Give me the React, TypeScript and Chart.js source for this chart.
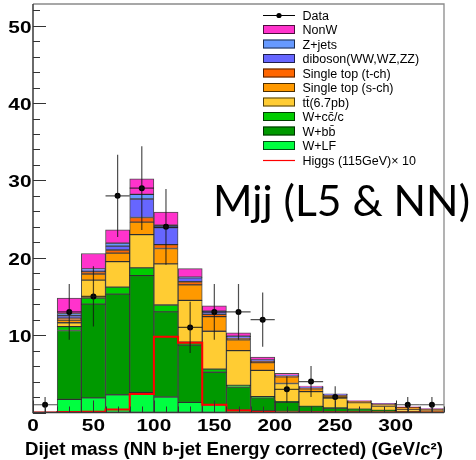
import { useEffect, useRef } from 'react';
import { Chart, registerables } from 'chart.js';

Chart.register(...registerables);

// Dijet mass bins: 20 GeV wide, centres from 30 to 330 GeV
const binCenters = [30, 50, 70, 90, 110, 130, 150, 170, 190, 210, 230, 250, 270, 290, 310, 330];

// Expected events per bin for each background (stacked bottom to top)
const wLF = [1.7, 1.9, 2.3, 2.6, 2.0, 1.3, 1.0, 0.3, 0.2, 0.15, 0.1, 0.08, 0.05, 0.03, 0.02, 0.01];
const wbb = [8.9, 12.1, 13.0, 15.1, 11.0, 7.4, 4.2, 3.0, 1.7, 1.15, 0.65, 0.47, 0.33, 0.22, 0.1, 0.06];
const wcc = [0.5, 0.8, 0.9, 1.0, 0.9, 0.4, 0.4, 0.2, 0.15, 0.1, 0.05, 0.05, 0.04, 0.03, 0.02, 0.01];
const ttbar = [0.5, 2.3, 3.3, 4.3, 5.3, 5.4, 4.9, 4.5, 3.4, 2.35, 1.9, 1.25, 0.85, 0.55, 0.2, 0.12];
const stopS = [0.35, 0.8, 1.1, 1.6, 2.0, 2.0, 1.9, 1.4, 1.0, 0.85, 0.35, 0.35, 0.15, 0.25, 0.3, 0.22];
const stopT = [0.25, 0.3, 0.4, 0.6, 0.5, 0.4, 0.3, 0.2, 0.15, 0.1, 0.1, 0.05, 0.03, 0.03, 0.03, 0.02];
const diboson = [0.3, 0.2, 0.5, 2.4, 2.2, 0.5, 0.3, 0.2, 0.15, 0.08, 0.05, 0.05, 0.02, 0.02, 0.02, 0.01];
const zjets = [0.3, 0.15, 0.4, 0.6, 0.3, 0.1, 0.1, 0.05, 0.05, 0.02, 0.02, 0.02, 0.01, 0.01, 0.01, 0.01];
const nonW = [2.0, 2.0, 1.7, 2.0, 1.7, 1.1, 0.7, 0.45, 0.35, 0.25, 0.18, 0.08, 0.07, 0.06, 0.04, 0.04];

const stackNames = [
  'W+LF',
  'W+bb\u0304',
  'W+cc\u0304/c',
  'tt\u0304(6.7pb)',
  'Single top (s-ch)',
  'Single top (t-ch)',
  'diboson(WW,WZ,ZZ)',
  'Z+jets',
  'NonW',
];
const stackColors = ['#00ff40', '#009900', '#00cc00', '#ffcc33', '#ff9900', '#ff6600', '#6666ff', '#6699ff', '#ff33cc'];
const stackValues = [wLF, wbb, wcc, ttbar, stopS, stopT, diboson, zjets, nonW];

// Observed events (empty bins have no marker)
const dataX = [10, 30, 50, 70, 90, 110, 130, 150, 170, 190, 210, 230, 250, 310, 330];
const dataY = [1, 13, 15, 28, 29, 24, 11, 13, 13, 12, 3, 4, 2, 1, 1];
const dataErr = [1, 3.6, 3.9, 5.3, 5.4, 4.9, 3.3, 3.6, 3.6, 3.5, 1.7, 2.0, 1.4, 1, 1];
const dataHalfWidth = 10;

// Higgs signal (115 GeV) scaled by 10, per bin starting at each lower edge
const higgsEdges = [0, 20, 40, 60, 80, 100, 120, 140, 160, 180, 200, 220, 240, 260, 280, 300, 320, 340];
const higgsX10 = [0, 0.05, 0.1, 0.4, 2.4, 9.8, 9.0, 1.0, 0.25, 0.05, 0, 0, 0, 0, 0, 0, 0];

const xMin = 0;
const xMax = 340;
const binWidth = 20;
const yMin = 0;
const yMax = 52.8;
const xMajorTicks = [0, 50, 100, 150, 200, 250, 300];
const yMajorTicks = [10, 20, 30, 40, 50];

const xTitle = 'Dijet mass (NN b-jet Energy corrected) (GeV/c\u00b2)';
const overlayText = 'Mjj (L5 & NN)';
const dataLabel = 'Data';
const higgsLabel = 'Higgs (115GeV)\u00d7 10';

function drawText(
  ctx: CanvasRenderingContext2D,
  text: string,
  x: number,
  y: number,
  font: string,
  align: 'left' | 'center' | 'right',
  sx = 1,
) {
  ctx.save();
  ctx.font = font;
  ctx.textAlign = 'left';
  ctx.textBaseline = 'alphabetic';
  const w = ctx.measureText(text).width * sx;
  const left = align === 'right' ? x - w : align === 'center' ? x - w / 2 : x;
  ctx.translate(left, y);
  ctx.scale(sx, 1);
  ctx.fillText(text, 0, 0);
  ctx.restore();
}

function fitText(
  ctx: CanvasRenderingContext2D,
  text: string,
  left: number,
  right: number,
  y: number,
  font: string,
) {
  ctx.save();
  ctx.font = font;
  const w = ctx.measureText(text).width;
  ctx.restore();
  drawText(ctx, text, left, y, font, 'left', (right - left) / w);
}

const decorPlugin = {
  id: 'decor',
  afterDatasetsDraw(chart: any) {
    const ctx: CanvasRenderingContext2D = chart.ctx;
    const xs = chart.scales.x;
    const ys = chart.scales.y;
    const { left, right, top, bottom } = chart.chartArea;

    // error bars on the data points
    ctx.save();
    ctx.strokeStyle = 'rgba(20,20,20,0.75)';
    ctx.lineWidth = 1.2;
    dataX.forEach((x, i) => {
      const px = xs.getPixelForValue(x);
      const py = ys.getPixelForValue(dataY[i]);
      ctx.beginPath();
      ctx.moveTo(px, ys.getPixelForValue(Math.max(yMin, dataY[i] - dataErr[i])));
      ctx.lineTo(px, ys.getPixelForValue(dataY[i] + dataErr[i]));
      ctx.moveTo(xs.getPixelForValue(x - dataHalfWidth), py);
      ctx.lineTo(xs.getPixelForValue(x + dataHalfWidth), py);
      ctx.stroke();
    });
    ctx.restore();

    // frame
    ctx.save();
    ctx.strokeStyle = '#8a8a8a';
    ctx.lineWidth = 1.3;
    ctx.beginPath();
    ctx.moveTo(left, top);
    ctx.lineTo(right, top);
    ctx.lineTo(right, bottom);
    ctx.stroke();
    ctx.strokeStyle = '#3a3a3a';
    ctx.lineWidth = 1.5;
    ctx.beginPath();
    ctx.moveTo(left, top);
    ctx.lineTo(left, bottom);
    ctx.lineTo(right, bottom);
    ctx.stroke();

    // inward ticks
    ctx.strokeStyle = '#333';
    ctx.lineWidth = 1;
    ctx.beginPath();
    for (let v = 0; v <= yMax; v += 2) {
      const py = Math.round(ys.getPixelForValue(v)) + 0.5;
      const len = v % 10 === 0 ? 13 : 7;
      ctx.moveTo(left, py);
      ctx.lineTo(left + len, py);
    }
    for (let v = 0; v <= xMax; v += 10) {
      const px = Math.round(xs.getPixelForValue(v)) + 0.5;
      const len = v % 50 === 0 ? 12 : 6;
      ctx.moveTo(px, bottom);
      ctx.lineTo(px, bottom - len);
    }
    ctx.stroke();
    ctx.restore();

    // tick labels
    ctx.save();
    ctx.fillStyle = '#000';
    const tickFont = 'bold 16px "Liberation Sans", Arial, sans-serif';
    yMajorTicks.forEach((v) => {
      drawText(ctx, String(v), left - 1.5, ys.getPixelForValue(v) + 7, tickFont, 'right', 1.3);
    });
    xMajorTicks.forEach((v) => {
      drawText(ctx, String(v), xs.getPixelForValue(v), bottom + 18, tickFont, 'center', 1.3);
    });

    // axis title, right-aligned to the axis end
    fitText(ctx, xTitle, 25, right - 1, bottom + 42.5, 'bold 18px "Liberation Sans", Arial, sans-serif');

    // large overlay label
    fitText(ctx, overlayText, 213, 470, 215.5, '42px Lato, "Open Sans", sans-serif');
    ctx.restore();

    // legend
    ctx.save();
    const boxL = 263;
    const boxW = 32;
    const textX = 302.5;
    const rowTop = 15;
    const rowStep = 14.5;
    const legendFont = '12.5px "Liberation Sans", Arial, sans-serif';
    const entries: { label: string; kind: 'data' | 'box' | 'line'; color: string }[] = [];
    entries.push({ label: dataLabel, kind: 'data', color: '#000' });
    for (let k = stackNames.length - 1; k >= 0; k--) {
      entries.push({ label: stackNames[k], kind: 'box', color: stackColors[k] });
    }
    entries.push({ label: higgsLabel, kind: 'line', color: '#ff0000' });
    entries.forEach((e, i) => {
      const cy = rowTop + i * rowStep;
      if (e.kind === 'box') {
        ctx.fillStyle = e.color;
        ctx.fillRect(boxL, cy - 4.5, boxW, 9);
        ctx.strokeStyle = 'rgba(0,0,0,0.7)';
        ctx.lineWidth = 1;
        ctx.strokeRect(boxL + 0.5, cy - 4, boxW - 1, 8);
      } else if (e.kind === 'data') {
        ctx.strokeStyle = '#000';
        ctx.lineWidth = 1;
        ctx.beginPath();
        ctx.moveTo(boxL, cy + 0.5);
        ctx.lineTo(boxL + boxW, cy + 0.5);
        ctx.stroke();
        ctx.fillStyle = '#000';
        ctx.beginPath();
        ctx.arc(boxL + boxW / 2, cy + 0.5, 2.6, 0, Math.PI * 2);
        ctx.fill();
      } else {
        ctx.strokeStyle = e.color;
        ctx.lineWidth = 1.2;
        ctx.beginPath();
        ctx.moveTo(boxL, cy + 0.5);
        ctx.lineTo(boxL + boxW, cy + 0.5);
        ctx.stroke();
      }
      ctx.fillStyle = '#000';
      drawText(ctx, e.label, textX, cy + 4.5, legendFont, 'left');
    });
    ctx.restore();
  },
};

export default function App() {
  const canvasRef = useRef<HTMLCanvasElement | null>(null);

  useEffect(() => {
    document.body.style.margin = '0';
    const canvas = canvasRef.current;
    if (!canvas) return;

    const datasets: any[] = [
      {
        type: 'line',
        label: dataLabel,
        data: dataX.map((x, i) => ({ x, y: dataY[i] })),
        yAxisID: 'y2',
        showLine: false,
        pointRadius: 3,
        pointBackgroundColor: '#000',
        pointBorderColor: '#000',
        pointBorderWidth: 0,
        order: 0,
      },
      {
        type: 'line',
        label: higgsLabel,
        data: higgsEdges.map((x, i) => ({ x, y: higgsX10[Math.min(i, higgsX10.length - 1)] })),
        yAxisID: 'y2',
        stepped: 'before',
        borderColor: '#ff0000',
        borderWidth: 2,
        pointRadius: 0,
        fill: false,
        order: 1,
      },
      ...stackValues.map((vals, k) => ({
        type: 'bar',
        label: stackNames[k],
        data: binCenters.map((x, i) => ({ x, y: vals[i] })),
        backgroundColor: stackColors[k],
        borderColor: 'rgba(0,0,0,0.7)',
        borderWidth: 1,
        borderSkipped: false,
        stack: 'mc',
        yAxisID: 'y',
        barPercentage: 1,
        categoryPercentage: 1,
        order: 2 + k,
      })),
    ];

    const chart = new Chart(canvas, {
      type: 'bar',
      data: { datasets },
      options: {
        animation: false,
        responsive: false,
        devicePixelRatio: 1,
        layout: { padding: { left: 33, top: 3, right: 32, bottom: 47.5 } },
        plugins: { legend: { display: false }, tooltip: { enabled: false } },
        scales: {
          x: {
            type: 'linear',
            min: xMin,
            max: xMax,
            offset: false,
            stacked: true,
            display: false,
            ticks: { stepSize: binWidth },
          },
          y: { type: 'linear', min: yMin, max: yMax, stacked: true, display: false },
          y2: { type: 'linear', min: yMin, max: yMax, display: false },
        },
      } as any,
      plugins: [decorPlugin],
    });

    return () => chart.destroy();
  }, []);

  return (
    <div style={{ width: 476, height: 460, background: '#fff' }}>
      <canvas ref={canvasRef} width={476} height={460} style={{ display: 'block' }} />
    </div>
  );
}
